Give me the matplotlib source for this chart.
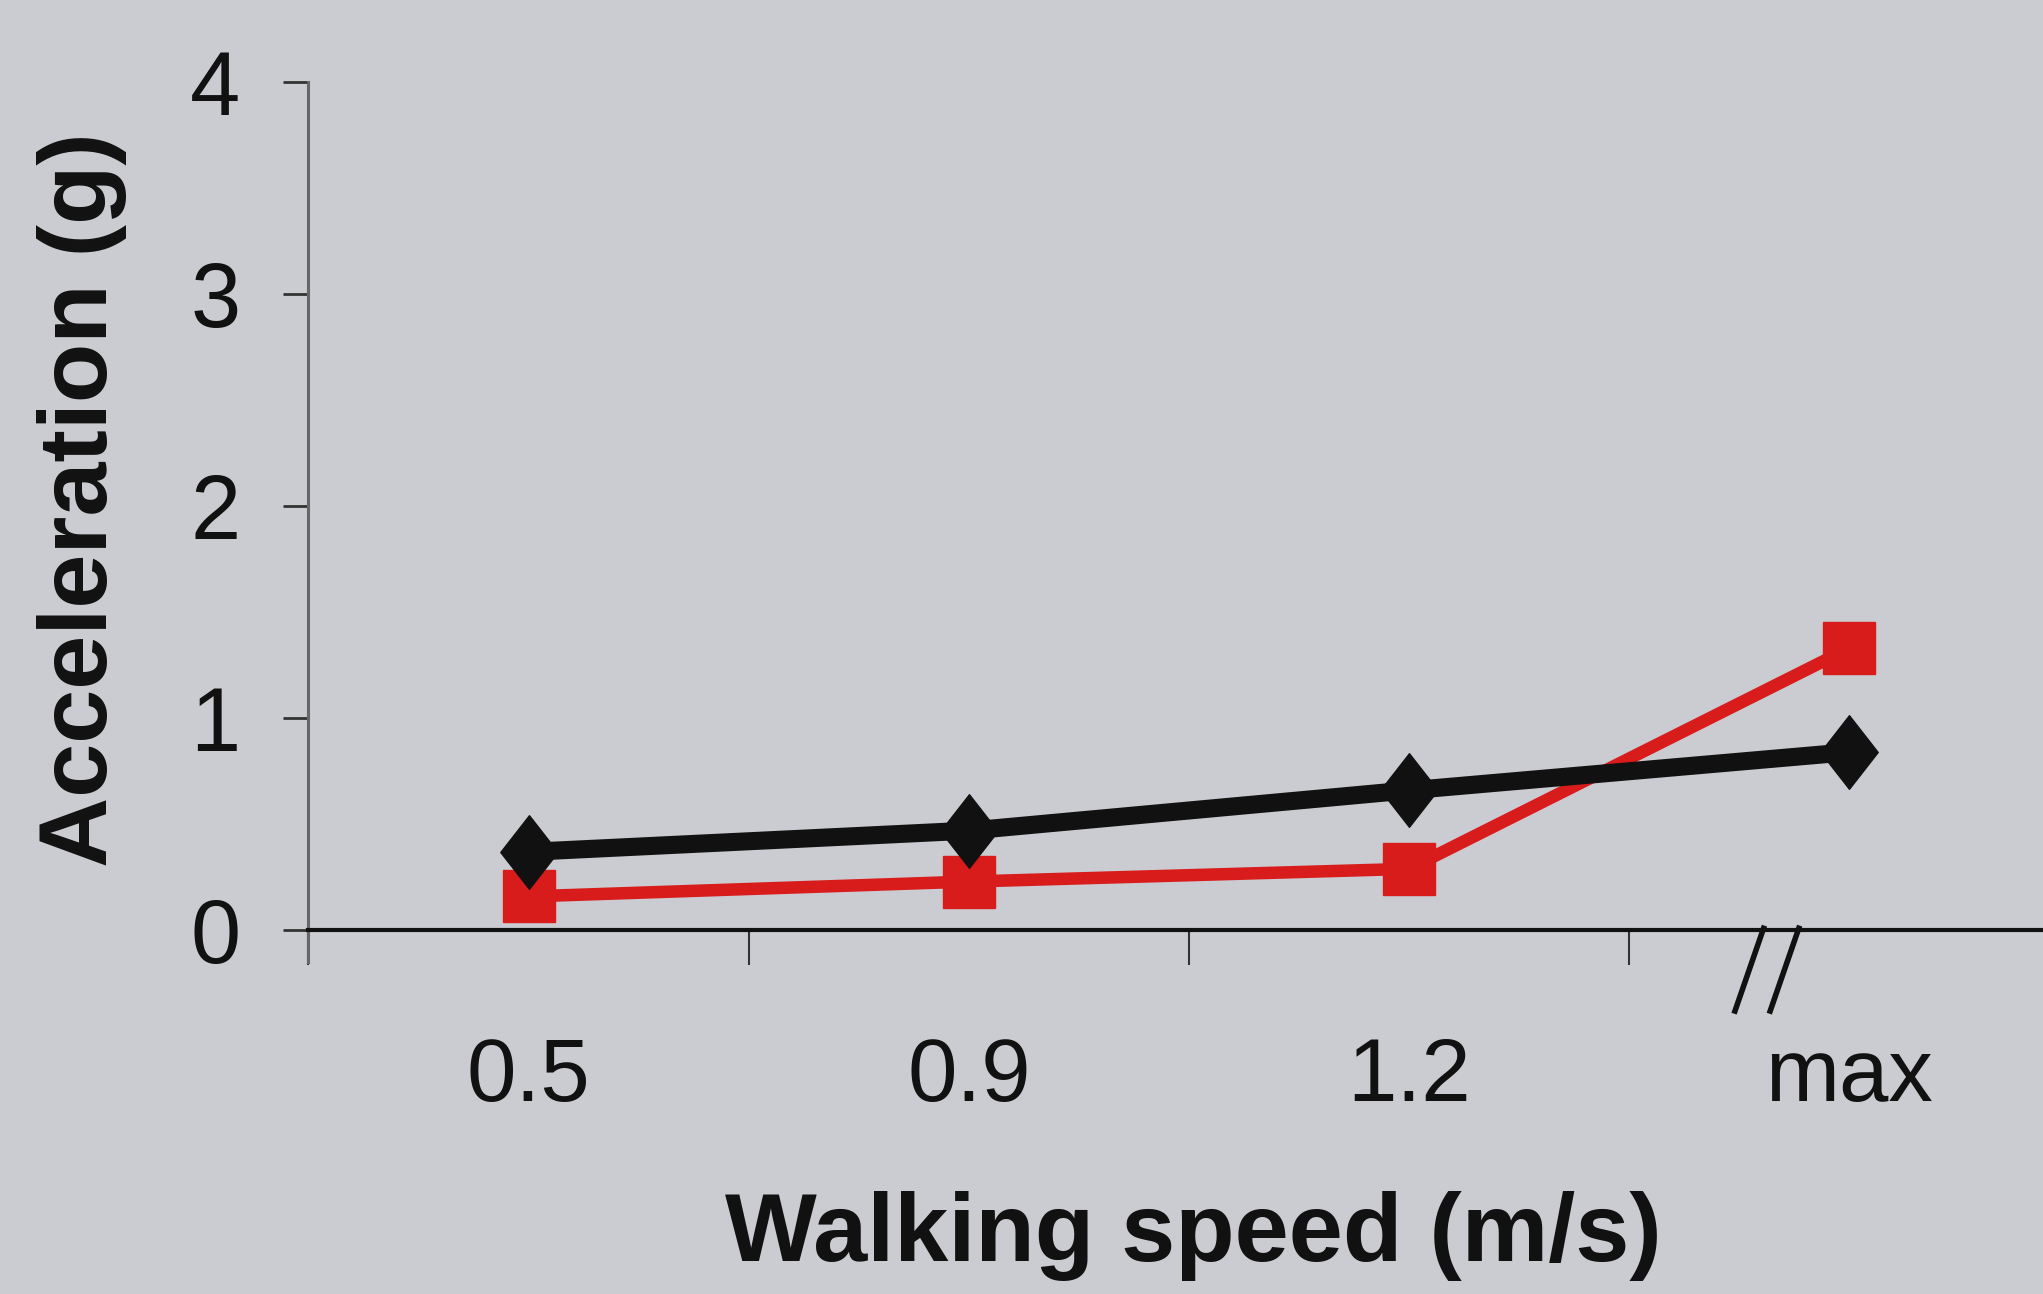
import numpy as np
import matplotlib.pyplot as plt
from matplotlib.path import Path

plt.rcParams['font.family'] = ['Liberation Sans', 'DejaVu Sans']

speeds = ['0.5', '0.9', '1.2', 'max']
accel_black = [0.37, 0.47, 0.66, 0.84]
accel_red = [0.16, 0.23, 0.29, 1.33]
y_ticks = [0, 1, 2, 3, 4]

bg = '#cbccd1'
fig = plt.figure(figsize=(20.43, 12.94), dpi=100, facecolor=bg)
ax = fig.add_axes([0.151, 0.2564, 0.862, 0.6806], facecolor=bg)

# slightly tall diamond for the black series
tall_diamond = Path([(0, 1), (0.78, 0), (0, -1), (-0.78, 0), (0, 1)],
                    [Path.MOVETO, Path.LINETO, Path.LINETO, Path.LINETO,
                     Path.CLOSEPOLY])

x = np.arange(len(speeds))
ax.plot(x, accel_red, color='#d81c1c', lw=9, marker='s', ms=38,
        mec='#d81c1c', zorder=3, clip_on=False)
ax.plot(x, accel_black, color='#111111', lw=13, marker=tall_diamond, ms=53,
        mec='#111111', zorder=4, clip_on=False)

ax.set_xlim(-0.5, 3.5)
ax.set_ylim(-0.15, 4)

for s in ['top', 'right']:
    ax.spines[s].set_visible(False)
ax.spines['bottom'].set_position(('data', 0))
ax.spines['bottom'].set_color('#111111')
ax.spines['bottom'].set_linewidth(3)
ax.spines['left'].set_color('#666666')
ax.spines['left'].set_linewidth(2.2)

ax.set_yticks(y_ticks)
ax.tick_params(axis='y', length=18, width=2, color='#333333',
               labelsize=65, pad=31, labelcolor='#111111')

ax.set_xticks(x)
ax.set_xticklabels(speeds)
ax.set_xticks(np.arange(-0.5, 3.0, 1.0), minor=True)
ax.tick_params(axis='x', which='major', length=0, labelsize=64,
               pad=76, labelcolor='#111111')
ax.tick_params(axis='x', which='minor', length=25, width=1.5,
               color='#333333')

# axis break mark before the last category
for x0 in (2.74, 2.82):
    ax.plot([x0, x0 + 0.065], [-0.38, 0.01], color='#111111',
            lw=4, clip_on=False, zorder=5)

fig.text(0.040, 0.614, 'Acceleration (g)', rotation=90, fontsize=70,
         fontweight='bold', ha='center', va='center', color='#111111')
fig.text(0.584, 0.045, 'Walking speed (m/s)', fontsize=70,
         fontweight='bold', ha='center', va='center', color='#111111')

fig.savefig('out.png', dpi=100, facecolor=bg)
